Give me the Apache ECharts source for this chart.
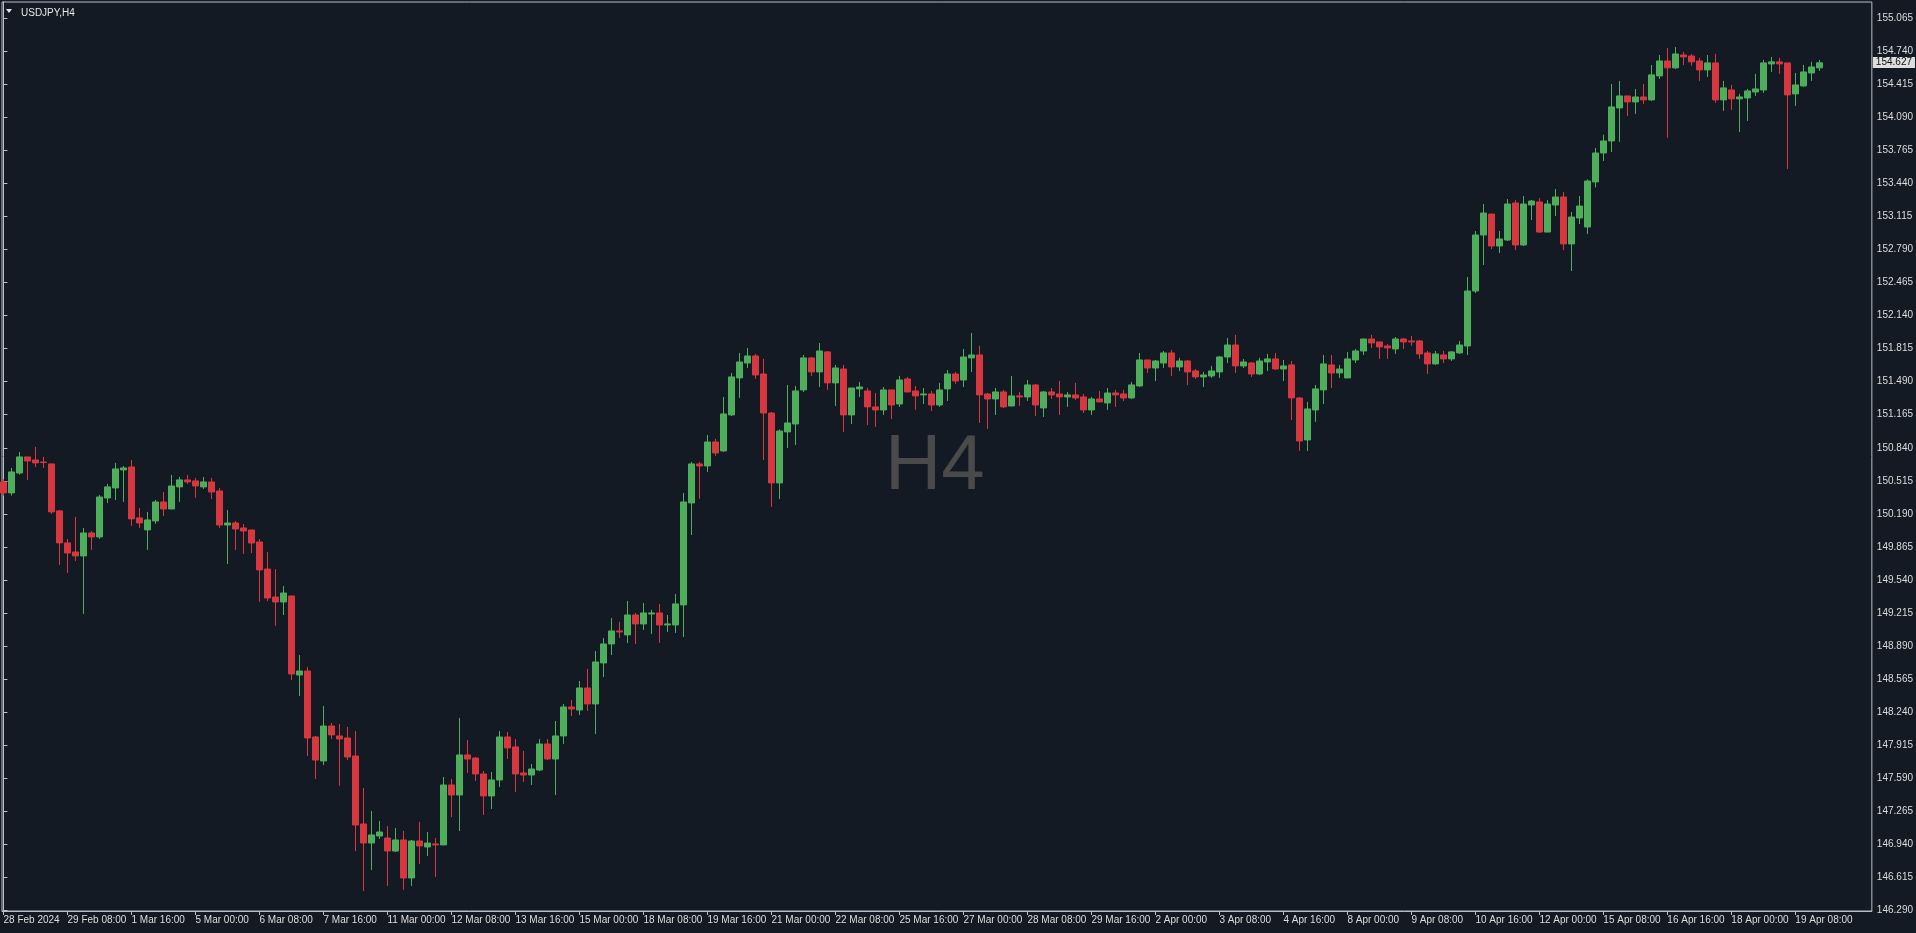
<!DOCTYPE html>
<html>
<head>
<meta charset="utf-8">
<script src="https://cdn.jsdelivr.net/npm/echarts@6/dist/echarts.min.js"></script>
<style>
html,body{margin:0;padding:0;background:#131a24;}
#c{width:1916px;height:933px;}
</style>
</head>
<body>
<div id="c"></div>
<script>
// USDJPY H4, 28 Feb 2024 00:00 .. 19 Apr 2024 12:00 (bar index = position)
const opens = [
150.504,150.396,150.592,150.750,150.720,150.700,150.681,150.219,149.904,149.815,
149.776,150.002,149.963,150.346,150.445,150.622,150.651,150.150,150.032,150.120,
150.307,150.238,150.455,150.524,150.514,150.455,150.503,150.415,150.080,150.100,
150.051,150.031,149.913,149.647,149.372,149.323,149.382,148.605,148.644,147.995,
147.759,148.103,148.005,147.985,147.808,147.139,146.952,147.021,147.001,146.873,
146.982,146.608,146.972,146.913,146.943,146.933,147.523,147.424,147.818,147.788,
147.631,147.415,147.572,147.995,147.897,147.641,147.621,147.670,147.926,147.778,
148.005,148.290,148.260,148.477,148.320,148.723,148.910,149.038,148.999,149.195,
149.107,149.205,149.215,149.097,149.097,149.294,150.297,150.681,150.661,150.897,
150.809,151.163,151.527,151.674,151.743,151.566,151.182,150.494,150.996,151.074,
151.409,151.724,151.586,151.783,151.478,151.615,151.163,151.419,151.399,151.242,
151.212,151.409,151.271,151.517,151.399,151.360,151.369,151.261,151.419,151.566,
151.507,151.724,151.753,151.369,151.320,151.389,151.251,151.350,151.340,151.458,
151.232,151.389,151.369,151.340,151.360,151.340,151.212,151.320,151.281,151.379,
151.369,151.330,151.448,151.704,151.625,151.674,151.773,151.635,151.694,151.596,
151.537,151.546,151.586,151.733,151.851,151.645,151.674,151.566,151.684,151.714,
151.615,151.655,151.330,150.917,151.212,151.409,151.655,151.576,151.527,151.704,
151.792,151.910,151.881,151.842,151.812,151.910,151.891,151.891,151.773,151.665,
151.753,151.714,151.773,151.841,152.382,152.933,153.139,152.825,152.884,153.248,
152.835,153.228,153.258,152.962,153.228,153.307,152.845,153.100,153.012,153.455,
153.740,153.858,154.183,154.301,154.242,154.291,154.262,154.498,154.645,154.577,
154.704,154.694,154.645,154.557,154.626,154.262,154.360,154.272,154.281,154.340,
154.360,154.616,154.636,154.626,154.321,154.399,154.527,154.577
];
const closes = [
150.396,150.602,150.750,150.710,150.691,150.695,150.209,149.904,149.805,149.776,
150.002,149.963,150.356,150.455,150.632,150.642,150.140,150.100,150.130,150.307,
150.238,150.464,150.524,150.504,150.464,150.504,150.405,150.080,150.100,150.041,
150.021,149.903,149.638,149.362,149.323,149.411,148.615,148.644,147.985,147.768,
148.103,148.015,147.975,147.798,147.129,146.952,147.031,147.060,146.873,146.982,
146.608,146.972,146.923,146.952,146.933,147.523,147.424,147.818,147.778,147.631,
147.415,147.572,147.995,147.887,147.631,147.621,147.680,147.926,147.778,148.005,
148.290,148.270,148.477,148.320,148.733,148.910,149.038,149.028,149.195,149.107,
149.215,149.215,149.097,149.107,149.304,150.307,150.681,150.661,150.897,150.789,
151.173,151.537,151.684,151.743,151.556,151.182,150.494,151.005,151.084,151.399,
151.724,151.586,151.792,151.478,151.625,151.163,151.428,151.438,151.242,151.212,
151.409,151.261,151.507,151.389,151.350,151.369,151.261,151.409,151.566,151.497,
151.733,151.753,151.360,151.320,151.389,151.242,151.350,151.340,151.458,151.261,
151.389,151.360,151.340,151.360,151.330,151.212,151.320,151.291,151.379,151.360,
151.330,151.458,151.704,151.625,151.694,151.773,151.635,151.694,151.586,151.537,
151.556,151.596,151.733,151.851,151.645,151.684,151.566,151.694,151.714,151.615,
151.645,151.330,150.907,151.222,151.419,151.665,151.576,151.615,151.714,151.792,
151.910,151.871,151.832,151.822,151.910,151.881,151.881,151.763,151.665,151.763,
151.714,151.783,151.851,152.382,152.933,153.149,152.825,152.894,153.238,152.835,
153.238,153.267,152.962,153.238,153.307,152.845,153.110,153.218,153.464,153.740,
153.858,154.193,154.301,154.242,154.291,154.262,154.508,154.645,154.577,154.714,
154.685,154.636,154.557,154.626,154.262,154.380,154.272,154.291,154.350,154.370,
154.626,154.636,154.616,154.311,154.409,154.537,154.586,154.627
];
const highs = [
150.530,150.642,150.799,150.750,150.848,150.750,150.681,150.228,149.943,150.160,
150.051,150.022,150.376,150.484,150.691,150.661,150.720,150.248,150.209,150.327,
150.405,150.573,150.553,150.573,150.543,150.553,150.543,150.444,150.228,150.120,
150.090,150.031,149.942,149.815,149.647,149.480,149.382,148.802,148.684,148.005,
148.300,148.133,148.123,148.093,148.054,147.493,147.267,147.168,147.119,147.099,
147.070,146.982,147.159,147.060,147.001,147.601,147.582,148.182,147.965,147.798,
147.660,147.651,148.054,148.044,147.975,147.857,147.729,147.975,147.975,148.152,
148.320,148.359,148.546,148.664,148.841,148.969,149.165,149.127,149.333,149.215,
149.313,149.245,149.304,149.195,149.402,150.396,150.701,150.701,150.966,150.927,
151.340,151.576,151.773,151.822,151.763,151.714,151.192,151.020,151.458,151.448,
151.753,151.733,151.871,151.792,151.655,151.655,151.428,151.487,151.428,151.379,
151.438,151.409,151.547,151.537,151.448,151.428,151.399,151.478,151.605,151.586,
151.812,151.969,151.842,151.379,151.428,151.409,151.546,151.389,151.507,151.468,
151.399,151.428,151.497,151.389,151.478,151.369,151.340,151.399,151.428,151.409,
151.409,151.487,151.773,151.704,151.704,151.792,151.802,151.724,151.704,151.615,
151.586,151.645,151.743,151.920,151.950,151.714,151.684,151.724,151.763,151.773,
151.704,151.694,151.340,151.291,151.458,151.753,151.753,151.655,151.783,151.812,
151.910,151.950,151.881,151.861,151.930,151.920,151.940,151.901,151.792,151.792,
151.792,151.792,151.891,152.520,152.972,153.238,153.139,152.972,153.287,153.277,
153.317,153.277,153.297,153.277,153.385,153.356,153.159,153.317,153.480,153.790,
153.920,154.419,154.449,154.301,154.370,154.419,154.606,154.704,154.773,154.783,
154.734,154.714,154.675,154.704,154.714,154.449,154.409,154.321,154.370,154.518,
154.655,154.685,154.675,154.626,154.527,154.606,154.636,154.655
];
const lows = [
150.369,150.369,150.576,150.524,150.651,150.642,150.189,149.687,149.609,149.727,
149.205,149.835,149.943,150.297,150.327,150.307,150.071,150.051,149.835,150.091,
150.169,150.238,150.307,150.484,150.346,150.435,150.336,150.051,149.697,149.834,
149.795,149.805,149.323,149.333,149.087,149.195,148.556,148.398,147.808,147.582,
147.719,147.975,147.513,147.768,146.873,146.480,146.686,146.992,146.529,146.863,
146.490,146.529,146.746,146.824,146.618,146.933,147.208,147.070,147.641,147.562,
147.228,147.287,147.503,147.778,147.454,147.552,147.523,147.660,147.769,147.424,
147.926,148.201,148.211,148.251,148.024,148.585,148.801,148.969,148.920,148.910,
149.048,149.008,148.920,149.028,149.018,148.979,149.982,150.337,150.602,150.760,
150.799,151.153,151.330,151.625,151.517,150.720,150.258,150.336,150.838,150.868,
151.389,151.546,151.438,151.409,151.251,150.996,151.074,151.340,151.064,151.045,
151.163,151.123,151.242,151.389,151.212,151.271,151.202,151.242,151.300,151.468,
151.438,151.586,151.084,151.025,151.163,151.232,151.251,151.251,151.301,151.153,
151.143,151.320,151.163,151.242,151.310,151.182,151.163,151.291,151.212,151.242,
151.300,151.320,151.438,151.576,151.497,151.625,151.546,151.596,151.458,151.517,
151.438,151.527,151.527,151.674,151.576,151.625,151.537,151.556,151.596,151.606,
151.497,151.114,150.809,150.809,151.094,151.271,151.428,151.527,151.527,151.674,
151.753,151.822,151.714,151.714,151.763,151.812,151.842,151.714,151.566,151.655,
151.674,151.694,151.763,151.753,152.362,152.638,152.795,152.756,152.874,152.785,
152.825,153.080,152.953,152.962,153.120,152.785,152.579,153.041,152.943,153.400,
153.660,153.750,153.849,154.104,154.124,154.222,154.252,154.468,153.888,154.567,
154.606,154.596,154.449,154.488,154.232,154.154,154.163,153.947,154.055,154.301,
154.331,154.537,154.518,153.583,154.203,154.390,154.449,154.547
];
const timeTickBars = [0,8,16,24,32,40,48,56,64,72,80,88,96,104,112,120,128,136,144,152,160,168,176,184,192,200,208,216,224];
const timeTickLabels = ['28 Feb 2024','29 Feb 08:00','1 Mar 16:00','5 Mar 00:00','6 Mar 08:00','7 Mar 16:00',
'11 Mar 00:00','12 Mar 08:00','13 Mar 16:00','15 Mar 00:00','18 Mar 08:00','19 Mar 16:00','21 Mar 00:00',
'22 Mar 08:00','25 Mar 16:00','27 Mar 00:00','28 Mar 08:00','29 Mar 16:00','2 Apr 00:00','3 Apr 08:00',
'4 Apr 16:00','8 Apr 00:00','9 Apr 08:00','10 Apr 16:00','12 Apr 00:00','15 Apr 08:00','16 Apr 16:00',
'18 Apr 00:00','19 Apr 08:00'];
const priceTicks = [146.290,146.615,146.940,147.265,147.590,147.915,148.240,148.565,148.890,149.215,
149.540,149.865,150.190,150.515,150.840,151.165,151.490,151.815,152.140,152.465,152.790,153.115,
153.440,153.765,154.090,154.415,154.740,155.065];

const candles = opens.map((o, i) => [i, o, closes[i], lows[i], highs[i]]);
const lastIndex = closes.length - 1;
const lastClose = closes[lastIndex];

const FONT = 'Liberation Sans, Arial, sans-serif';
const TXT = '#dcdcdc';
const LINE = '#b9bdc6';
const chart = echarts.init(document.getElementById('c'), null, {renderer: 'canvas'});
chart.setOption({
  animation: false,
  backgroundColor: '#131a24',
  title: {
    text: 'USDJPY,H4', left: 16, top: 3,
    textStyle: {color: '#e6e6e6', fontSize: 10, fontWeight: 'normal', fontFamily: FONT}
  },
  graphic: [
    {type: 'polygon', shape: {points: [[6, 9], [12, 9], [9, 13]]}, style: {fill: '#e6e6e6'}},
    {type: 'text', x: 885, y: 467, silent: true,
     style: {text: 'H4', fontSize: 78, fontFamily: FONT, fill: '#4a4a4a', align: 'left', verticalAlign: 'middle'}}
  ],
  grid: {left: 2, right: 44, top: 2, bottom: 22, show: true, borderColor: LINE, borderWidth: 1, backgroundColor: 'transparent'},
  xAxis: {
    type: 'value', min: -0.1875, max: 233.5625,
    axisLine: {show: true, lineStyle: {color: LINE}},
    splitLine: {show: false},
    axisTick: {show: true, length: 4, lineStyle: {color: LINE}, customValues: timeTickBars},
    axisLabel: {
      customValues: timeTickBars, align: 'left', margin: 4, color: TXT, fontSize: 10, fontFamily: FONT,
      formatter: v => timeTickLabels[timeTickBars.indexOf(Math.round(v))] || ''
    }
  },
  yAxis: {
    type: 'value', position: 'right', min: 146.283, max: 155.225, scale: true,
    axisLine: {show: true, lineStyle: {color: LINE}},
    splitLine: {show: false},
    axisTick: {show: true, length: 4, lineStyle: {color: LINE}, customValues: priceTicks},
    axisLabel: {customValues: priceTicks, margin: 5, color: TXT, fontSize: 10, fontFamily: FONT,
      formatter: v => v.toFixed(3)}
  },
  series: [
    {
      type: 'candlestick',
      data: candles,
      encode: {x: 0, y: [1, 2, 3, 4]},
      barWidth: 6,
      clip: true,
      itemStyle: {color: '#4dae5c', color0: '#d7373f', borderColor: '#4dae5c', borderColor0: '#d7373f', borderWidth: 1}
    },
    {
      type: 'scatter', data: [[lastIndex, lastClose]], symbolSize: 0, clip: false, silent: true,
      itemStyle: {opacity: 0},
      markLine: {
        silent: true, symbol: 'none', animation: false,
        lineStyle: {color: 'rgba(0,0,0,0)', width: 1, opacity: 1, type: 'solid'},
        label: {show: true, position: 'end', distance: 1, opacity: 1, formatter: () => lastClose.toFixed(3),
          backgroundColor: '#dedede', color: '#111', fontSize: 10, fontFamily: FONT, padding: [1, 3, 0, 3]},
        data: [{yAxis: lastClose}]
      }
    }
  ]
});
</script>
</body>
</html>
